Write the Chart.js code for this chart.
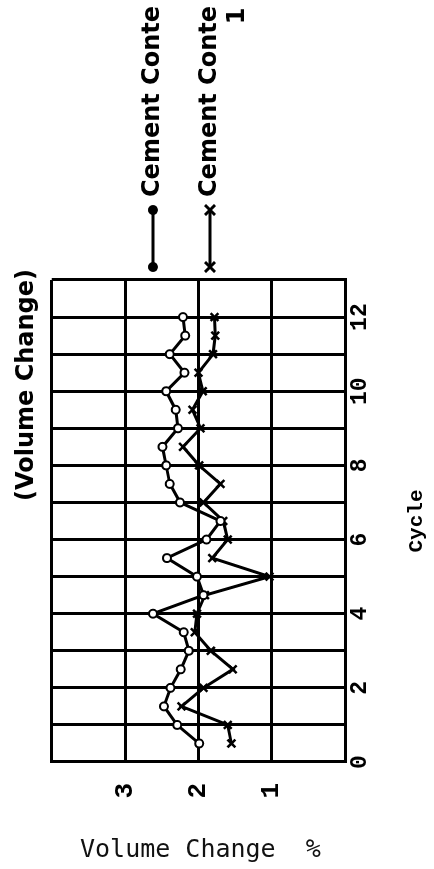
<!DOCTYPE html>
<html lang="en">
<head>
<meta charset="UTF-8">
<title>Volume Change</title>
<script src="https://cdn.jsdelivr.net/npm/chart.js"></script>
<style>
    html, body { margin: 0; padding: 0; background: #fff; }
    body { width: 434px; height: 869px; overflow: hidden; position: relative; }
    /* the whole chart is drawn lying on its side, like the scanned figure */
    #turn { position: absolute; left: 0; top: 0; width: 968px; height: 434px;
            transform-origin: 0 0; transform: translate(0, 869px) rotate(-90deg); }
    #yLabel { position: absolute; left: 80px; top: 836px; white-space: pre; color: #111;
              font: 25px/25px "DejaVu Sans Mono", monospace; }
</style>
</head>
<body>

<div id="turn"><canvas id="chart" width="968" height="434"></canvas></div>
<div id="yLabel">Volume Change  %</div>

<script>
    const cycles = [0.5, 1, 1.5, 2, 2.5, 3, 3.5, 4, 4.5, 5, 5.5, 6,
                    6.5, 7, 7.5, 8, 8.5, 9, 9.5, 10, 10.5, 11, 11.5, 12];
    const cement = [1.99, 2.29, 2.47, 2.38, 2.24, 2.13, 2.20, 2.62, 1.93, 2.02, 2.43, 1.89,
                    1.70, 2.25, 2.39, 2.44, 2.49, 2.28, 2.31, 2.44, 2.19, 2.39, 2.18, 2.21];
    const cement1 = [1.55, 1.60, 2.23, 1.93, 1.53, 1.83, 2.05, 2.02, 1.91, 1.03, 1.81, 1.60,
                     1.66, 1.93, 1.70, 1.99, 2.21, 1.97, 2.08, 1.94, 2.00, 1.80, 1.77, 1.78];
    const cycleTicks = [0, 2, 4, 6, 8, 10, 12];
    const changeTicks = [1, 2, 3];
    const seriesNames = ['Cement Conte', 'Cement Conte'];
    const nameExtra = ['', '1'];

    Chart.defaults.color = '#000';
    Chart.defaults.font.family = '"Liberation Mono", monospace';
    Chart.defaults.font.weight = 'bold';

    // legend drawn by hand: line with a marker at each end, text after it
    const sideLegend = {
        id: 'sideLegend',
        afterDraw(chart) {
            const ctx = chart.ctx;
            const area = chart.chartArea;
            const x0 = area.right + 13, x1 = area.right + 70;
            const rows = [153, 210];
            ctx.save();
            ctx.strokeStyle = '#000';
            ctx.fillStyle = '#000';
            ctx.lineWidth = 3;
            rows.forEach((y, i) => {
                ctx.beginPath();
                ctx.moveTo(x0, y);
                ctx.lineTo(x1, y);
                ctx.stroke();
                [x0, x1].forEach(x => {
                    ctx.beginPath();
                    if (i === 0) {
                        ctx.arc(x, y, 5, 0, Math.PI * 2);
                        ctx.fill();
                    } else {
                        ctx.moveTo(x - 5, y - 5); ctx.lineTo(x + 5, y + 5);
                        ctx.moveTo(x - 5, y + 5); ctx.lineTo(x + 5, y - 5);
                        ctx.stroke();
                    }
                });
                ctx.font = 'bold 24px "DejaVu Sans"';
                ctx.textBaseline = 'middle';
                ctx.textAlign = 'left';
                ctx.fillText(seriesNames[i], x1 + 13, y);
                if (nameExtra[i]) {
                    ctx.textAlign = 'center';
                    ctx.fillText(nameExtra[i], x1 + 194, y + 28);
                }
            });
            ctx.restore();
        }
    };

    const ctx = document.getElementById('chart').getContext('2d');
    new Chart(ctx, {
        type: 'line',
        data: {
            datasets: [{
                label: seriesNames[0],
                data: cycles.map((c, i) => ({ x: c, y: cement[i] })),
                borderColor: '#000',
                borderWidth: 3,
                pointStyle: 'circle',
                pointRadius: 4,
                pointBorderWidth: 2,
                pointBackgroundColor: '#fff',
                pointBorderColor: '#000',
                tension: 0
            }, {
                label: seriesNames[1] + ' ' + nameExtra[1],
                data: cycles.map((c, i) => ({ x: c, y: cement1[i] })),
                borderColor: '#000',
                borderWidth: 3,
                pointStyle: 'crossRot',
                pointRadius: 5.5,
                pointBorderWidth: 2.5,
                pointBorderColor: '#000',
                tension: 0
            }]
        },
        options: {
            responsive: false,
            animation: false,
            layout: { padding: 0 },
            plugins: {
                legend: { display: false },
                tooltip: { enabled: false },
                title: {
                    display: true,
                    text: '(Volume Change)',
                    font: { family: '"DejaVu Sans"', size: 24, weight: 'bold' },
                    padding: { top: 12, bottom: 11 }
                }
            },
            scales: {
                x: {
                    type: 'linear',
                    position: 'bottom',
                    min: 0,
                    max: 13,
                    ticks: {
                        stepSize: 1,
                        autoSkip: false,
                        maxRotation: 0,
                        padding: 1,
                        font: { size: 23 },
                        callback: v => cycleTicks.includes(v) ? v : ''
                    },
                    grid: { color: '#000', lineWidth: 3, drawTicks: false },
                    border: { color: '#000', width: 3 },
                    title: {
                        display: true,
                        text: 'Cycle',
                        font: { size: 21 },
                        padding: { top: 0, bottom: 5 }
                    },
                    afterFit: s => { s.height = 89; }
                },
                y: {
                    type: 'linear',
                    position: 'left',
                    min: 0,
                    max: 4,
                    ticks: {
                        stepSize: 1,
                        padding: 21,
                        font: { size: 26 },
                        callback: v => changeTicks.includes(v) ? v : ''
                    },
                    grid: { color: '#000', lineWidth: 3, drawTicks: false },
                    border: { color: '#000', width: 3 },
                    afterFit: s => { s.width = 107; }
                },
                side: {
                    type: 'linear',
                    position: 'right',
                    grid: { display: false },
                    border: { display: false },
                    ticks: { display: false },
                    afterFit: s => { s.width = 379; }
                }
            }
        },
        plugins: [sideLegend]
    });
</script>

</body>
</html>
